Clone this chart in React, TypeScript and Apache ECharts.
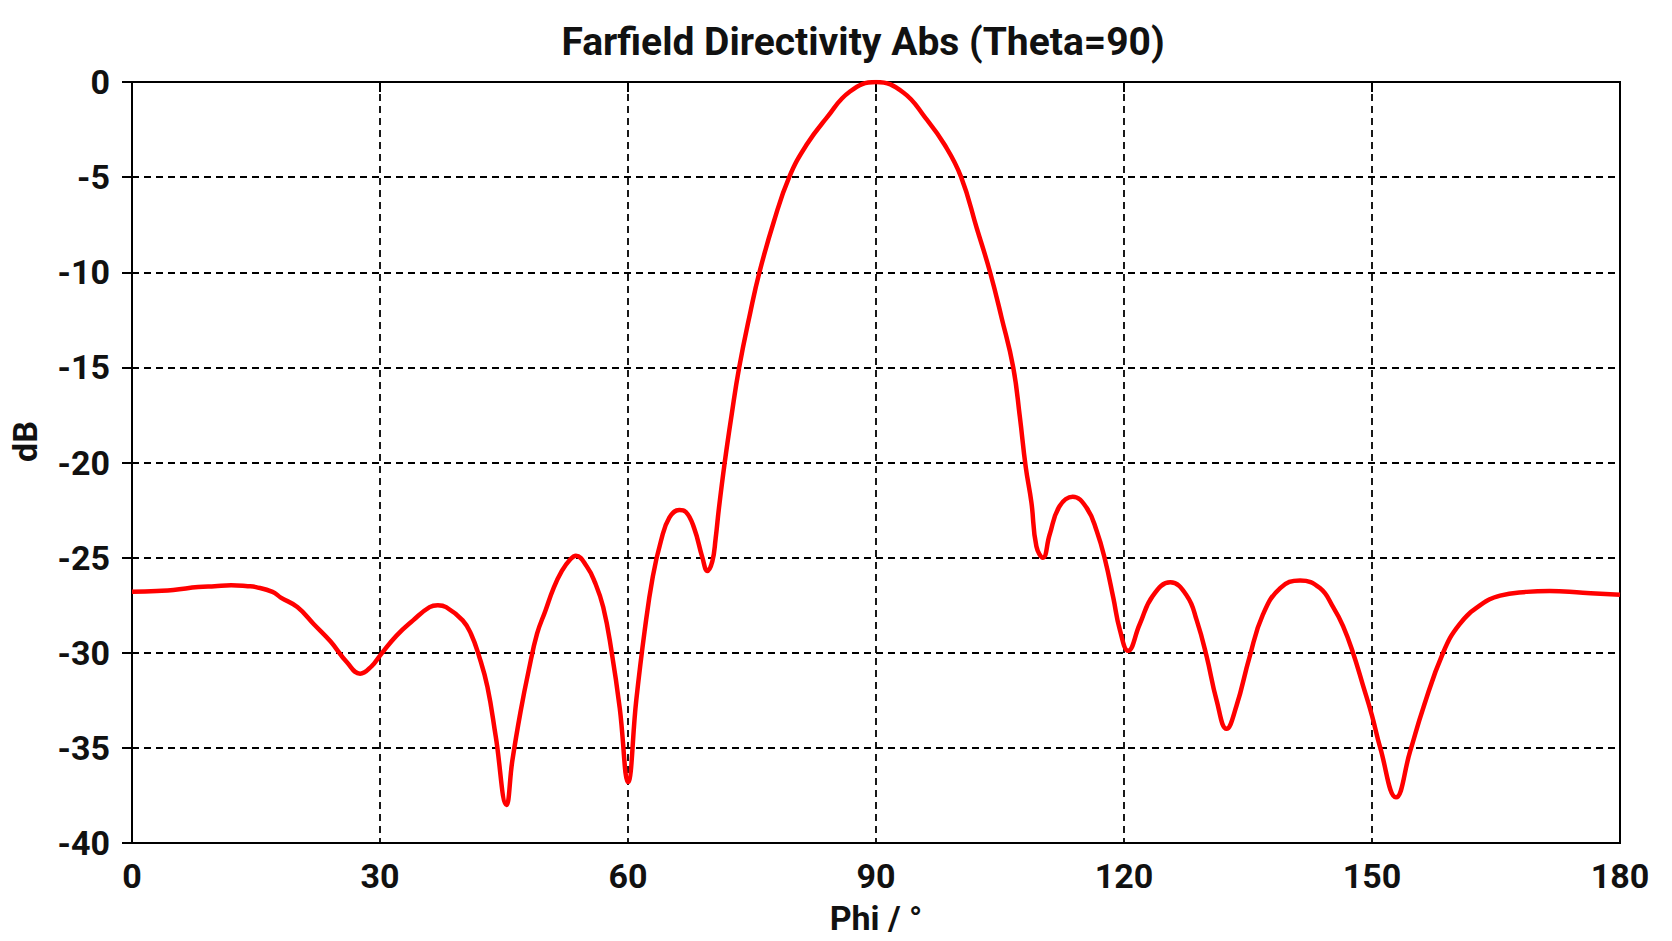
import { useEffect, useRef } from "react";
import * as echarts from "echarts";

// Phi (deg) and directivity (dB)
const PHI = [
  0, 3, 5, 8, 10, 12, 14, 15, 17, 18, 20, 22, 24, 26, 27.6, 29, 30, 32, 34, 36,
  37, 38, 40, 41, 42, 43, 44, 45.3, 46, 47, 48, 49, 50, 51, 52, 53, 53.7, 55,
  56, 57, 58, 59, 60, 61, 62, 63, 64, 65, 66.2, 67, 68, 69, 69.6, 70.2, 70.6,
  71, 71.7, 72.5, 73.45, 74.8, 75.9, 77.6, 79.5, 81.6, 84, 86.85, 90, 93.3, 96,
  98.3, 100.3, 102.2, 103.8, 105.2, 106.6, 107.4, 108.1, 108.8, 109.4, 110.2,
  111, 112.2, 113.8, 115.5, 116.7, 117.7, 118.7, 119.5, 120.5, 121.9, 123.5,
  125.6, 127.6, 128.8, 130, 131.2, 132.4, 133.6, 135.2, 136.8, 138.9, 141.3,
  143.7, 145.3, 146.5, 147.7, 148.9, 150, 151, 152.9, 154.6, 156.2, 158.6,
  160.6, 163.1, 165.5, 168.7, 171.5, 175.5, 180,
];

const DIRECTIVITY = [
  -26.8, -26.75, -26.7, -26.55, -26.5, -26.45, -26.5, -26.55, -26.8, -27.1,
  -27.6, -28.5, -29.4, -30.5, -31.1, -30.7, -30.15, -29.1, -28.3, -27.6, -27.5,
  -27.6, -28.3, -29.0, -30.2, -31.8, -34.4, -38.0, -35.7, -33.1, -30.9, -29.0,
  -27.8, -26.6, -25.7, -25.1, -24.9, -25.45, -26.3, -27.6, -29.9, -32.9, -36.8,
  -32.5, -28.9, -26.0, -24.1, -22.9, -22.5, -22.6, -23.45, -25.0, -25.7, -25.2,
  -24.0, -22.4, -20, -17.6, -15, -12.1, -10, -7.4, -5, -3.3, -1.9, -0.5, 0,
  -0.55, -1.9, -3.3, -5, -7.7, -10, -12.4, -15, -17.6, -20.2, -22.1, -24.4,
  -25.0, -23.8, -22.3, -21.8, -22.4, -23.6, -25.1, -27.1, -28.8, -29.9, -28.5,
  -27.0, -26.3, -27.0, -28.3, -30.2, -32.5, -34.0, -32.8, -30.2, -28.0, -26.6,
  -26.2, -26.6, -27.6, -28.6, -30.0, -31.7, -33.3, -35.0, -37.6, -35.2, -32.9,
  -30.0, -28.5, -27.5, -27.0, -26.8, -26.75, -26.85, -26.95,
];

const FONT = "Roboto";
const INK = "#111111";

export default function App() {
  const chartRef = useRef<HTMLDivElement>(null);

  useEffect(() => {
    if (!chartRef.current) {
      return;
    }

    const chart = echarts.init(chartRef.current, undefined, { renderer: "svg" });

    const points = PHI.map((phi, i) => [phi, DIRECTIVITY[i]]);

    const gridLine = {
      show: true,
      lineStyle: { color: "#000000", width: 1.8, type: [7, 5] as number[] },
    };

    chart.setOption({
      animation: false,
      backgroundColor: "#ffffff",
      title: {
        text: "Farfield Directivity Abs (Theta=90)",
        left: 858,
        top: 17,
        textAlign: "center",
        textStyle: {
          fontFamily: FONT,
          fontWeight: "bold",
          fontSize: 39,
          color: INK,
        },
      },
      grid: {
        left: 132,
        right: 52,
        top: 82,
        bottom: 98,
        show: true,
        borderColor: "#000000",
        borderWidth: 2,
      },
      xAxis: {
        type: "value",
        min: 0,
        max: 180,
        interval: 30,
        name: "Phi / °",
        nameLocation: "middle",
        nameGap: 58,
        nameTextStyle: {
          fontFamily: FONT,
          fontWeight: "bold",
          fontSize: 34,
          color: INK,
        },
        axisLine: { show: true, lineStyle: { color: "#000000", width: 2 } },
        axisTick: { show: true, length: 10, lineStyle: { color: "#000000", width: 2 } },
        axisLabel: {
          fontFamily: FONT,
          fontWeight: "bold",
          fontSize: 34,
          color: INK,
          margin: 16,
        },
        splitLine: gridLine,
      },
      yAxis: {
        type: "value",
        min: -40,
        max: 0,
        interval: 5,
        name: "dB",
        nameLocation: "middle",
        nameRotate: 90,
        nameGap: 90,
        nameTextStyle: {
          fontFamily: FONT,
          fontWeight: "bold",
          fontSize: 34,
          color: INK,
          padding: [0, 0, 0, 42],
        },
        axisLine: { show: true, lineStyle: { color: "#000000", width: 2 } },
        axisTick: { show: true, length: 10, lineStyle: { color: "#000000", width: 2 } },
        axisLabel: {
          fontFamily: FONT,
          fontWeight: "bold",
          fontSize: 34,
          color: INK,
          margin: 22,
        },
        splitLine: gridLine,
      },
      series: [
        {
          name: "Directivity",
          type: "line",
          data: points,
          showSymbol: false,
          smooth: 0.45,
          lineStyle: { color: "#ff0000", width: 4.5 },
          z: 5,
        },
      ],
    });

    return () => {
      chart.dispose();
    };
  }, []);

  return (
    <div
      ref={chartRef}
      style={{ position: "fixed", left: 0, top: 0, width: "100vw", height: "100vh" }}
    />
  );
}
